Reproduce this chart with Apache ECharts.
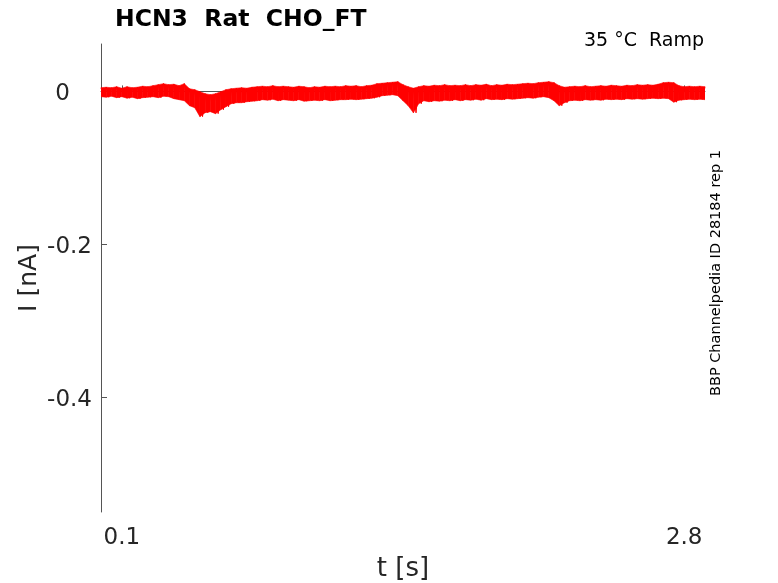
<!DOCTYPE html>
<html>
<head>
<meta charset="utf-8">
<script src="https://cdn.jsdelivr.net/npm/echarts@6/dist/echarts.min.js"></script>
<style>html,body{margin:0;padding:0;background:#fff}#c{width:778px;height:583px}</style>
</head>
<body>
<div id="c"></div>
<script>
// Sampling step of the trace envelope (s)
const tStep = 0.025;
// Upper envelope of the current trace (nA)
const hiValues = [
 0.0048,0.0055,0.0048,0.0061,0.0042,0.0061,0.0048,0.0055,0.0068,0.0061,
 0.0075,0.0088,0.0101,0.0088,0.0094,0.0075,0.0101,0.0035,0.0022,-0.0004,
 -0.0030,-0.0043,-0.0030,-0.0004,0.0022,0.0035,0.0042,0.0048,0.0042,0.0055,
 0.0061,0.0068,0.0061,0.0075,0.0061,0.0068,0.0061,0.0055,0.0068,0.0061,
 0.0048,0.0061,0.0055,0.0068,0.0061,0.0068,0.0061,0.0075,0.0068,0.0075,
 0.0061,0.0075,0.0081,0.0101,0.0107,0.0114,0.0120,0.0127,0.0088,0.0061,
 0.0042,0.0061,0.0075,0.0068,0.0081,0.0075,0.0088,0.0075,0.0081,0.0075,
 0.0088,0.0075,0.0088,0.0081,0.0094,0.0075,0.0088,0.0081,0.0094,0.0088,
 0.0094,0.0101,0.0107,0.0101,0.0114,0.0120,0.0127,0.0114,0.0075,0.0055,
 0.0061,0.0068,0.0061,0.0075,0.0061,0.0068,0.0075,0.0068,0.0081,0.0075,
 0.0068,0.0081,0.0075,0.0088,0.0081,0.0088,0.0081,0.0094,0.0114,0.0120,
 0.0114,0.0075,0.0061,0.0068,0.0061,0.0068,0.0061
];
// Lower envelope of the current trace (nA)
const loValues = [
 -0.0069,-0.0076,-0.0063,-0.0082,-0.0069,-0.0089,-0.0076,-0.0095,-0.0082,-0.0076,
 -0.0069,-0.0082,-0.0063,-0.0069,-0.0095,-0.0108,-0.0122,-0.0187,-0.0213,-0.0330,
 -0.0278,-0.0265,-0.0291,-0.0239,-0.0200,-0.0161,-0.0148,-0.0148,-0.0135,-0.0128,
 -0.0122,-0.0108,-0.0115,-0.0102,-0.0122,-0.0108,-0.0115,-0.0122,-0.0108,-0.0128,
 -0.0122,-0.0115,-0.0122,-0.0108,-0.0122,-0.0115,-0.0108,-0.0108,-0.0102,-0.0108,
 -0.0102,-0.0095,-0.0089,-0.0076,-0.0056,-0.0050,-0.0043,-0.0056,-0.0122,-0.0187,
 -0.0280,-0.0161,-0.0122,-0.0135,-0.0122,-0.0128,-0.0115,-0.0122,-0.0108,-0.0122,
 -0.0108,-0.0115,-0.0102,-0.0115,-0.0095,-0.0108,-0.0102,-0.0108,-0.0095,-0.0102,
 -0.0095,-0.0089,-0.0082,-0.0089,-0.0076,-0.0069,-0.0082,-0.0122,-0.0187,-0.0148,
 -0.0122,-0.0115,-0.0122,-0.0108,-0.0115,-0.0108,-0.0115,-0.0102,-0.0108,-0.0102,
 -0.0108,-0.0095,-0.0102,-0.0095,-0.0102,-0.0095,-0.0089,-0.0095,-0.0089,-0.0095,
 -0.0141,-0.0115,-0.0108,-0.0102,-0.0108,-0.0102,-0.0108
];
const xTicks = [0.1, 2.8];
const yTicks = [-0.4, -0.2, 0];
const titleText = 'HCN3  Rat  CHO_FT';
const subText = '35 °C  Ramp';
const sideText = 'BBP Channelpedia ID 28184 rep 1';

const times = hiValues.map((_, i) => +(i * tStep).toFixed(4));
// band segments: [t_i, hi_i, lo_i, t_next, hi_next, lo_next]
const bandData = [];
for (let i = 0; i < times.length - 1; i++) {
  bandData.push([times[i], hiValues[i], loValues[i], times[i + 1], hiValues[i + 1], loValues[i + 1]]);
}
const zig = [];
times.forEach((t, i) => {
  zig.push([t, hiValues[i]]);
  if (i < times.length - 1) zig.push([+(t + tStep / 2).toFixed(4), loValues[i]]);
});

const FONT = 'DejaVu Sans';
const RED = '#ff0000';
const chart = echarts.init(document.getElementById('c'), null, {renderer: 'canvas'});
chart.setOption({
  animation: false,
  backgroundColor: '#fff',
  title: {
    text: titleText, left: 110, top: 3,
    textStyle: {fontFamily: FONT, fontSize: 23.5, fontWeight: 'bold', color: '#000'}
  },
  grid: {left: 101, right: 73, top: 44, bottom: 71, containLabel: false, outerBoundsMode: 'none'},
  xAxis: {
    type: 'value', min: 0, max: 2.9,
    name: 't [s]', nameLocation: 'middle', nameGap: 44, nameMoveOverlap: false,
    nameTextStyle: {fontFamily: FONT, fontSize: 26, color: '#262626'},
    axisLine: {lineStyle: {color: '#555', width: 1}},
    axisTick: {show: true, inside: true, length: 6, customValues: xTicks, lineStyle: {color: '#555'}},
    axisLabel: {customValues: xTicks, fontFamily: FONT, fontSize: 23, color: '#262626', margin: 15},
    splitLine: {show: false}
  },
  yAxis: {
    type: 'value', min: -0.55, max: 0.062,
    name: 'I [nA]', nameLocation: 'middle', nameGap: 59, nameMoveOverlap: false,
    nameTextStyle: {fontFamily: FONT, fontSize: 25, color: '#262626'},
    axisLine: {show: true, lineStyle: {color: '#555', width: 1}},
    axisTick: {show: true, inside: true, length: 6, customValues: yTicks, lineStyle: {color: '#555'}},
    axisLabel: {customValues: yTicks, fontFamily: FONT, fontSize: 23, color: '#262626', margin: 9,
      padding: [5, 0, 0, 0],
      formatter: v => (Math.abs(v) < 1e-9 ? '{z|0}' : String(v)),
      rich: {z: {fontFamily: FONT, fontSize: 23, color: '#262626', padding: [0, 22, 0, 0]}}},
    splitLine: {show: false}
  },
  graphic: [
    {type: 'text', right: 74, top: 32, style: {text: subText, font: '19px "DejaVu Sans"', fill: '#000'}},
    {type: 'text', x: 716, y: 273, rotation: Math.PI / 2,
     style: {text: sideText, font: '14.5px "DejaVu Sans"', fill: '#000', textAlign: 'center', textVerticalAlign: 'middle'}}
  ],
  series: [
    {type: 'custom', data: bandData, silent: true, clip: true,
     renderItem: (params, api) => {
       const a = api.coord([api.value(0), api.value(1)]);
       const b = api.coord([api.value(3), api.value(4)]);
       const c = api.coord([api.value(3), api.value(5)]);
       const d = api.coord([api.value(0), api.value(2)]);
       return {type: 'polygon', shape: {points: [a, b, c, d]},
               style: {fill: RED, stroke: RED, lineWidth: 0.6}};
     },
     encode: {x: [0, 3], y: [1, 2, 4, 5]}},
    {type: 'line', data: zig, symbol: 'none', lineStyle: {color: RED, width: 1}, silent: true}
  ]
});
</script>
</body>
</html>
